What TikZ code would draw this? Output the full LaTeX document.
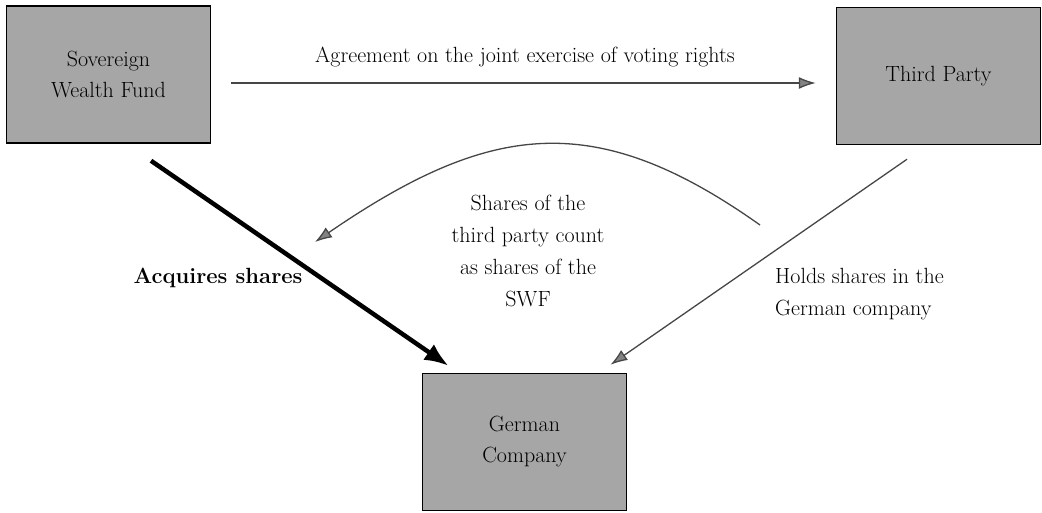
\documentclass[tikz,border=0pt]{standalone}
\usepackage{tikz}
\usetikzlibrary{arrows.meta, positioning, calc}
\definecolor{boxgray}{RGB}{166, 166, 166}
\definecolor{linkgray}{RGB}{70, 70, 70}
\definecolor{tipgray}{RGB}{130, 130, 130}

\tikzset{
    party/.style={draw=black, line width=1.5pt, fill=boxgray, minimum width=204pt, minimum height=137pt,
        inner sep=0pt, align=center, font=\fontsize{22}{31}\selectfont},
    caption/.style={font=\fontsize{22}{32}\selectfont, align=center, inner sep=0pt},
    thinlink/.style={draw=linkgray, line width=1.3pt, -{Latex[length=17pt, width=12pt, fill=tipgray]}},
    heavylink/.style={draw=black, line width=4.5pt, -{Latex[length=24pt, width=19pt]}}
}

\begin{document}
\begin{tikzpicture}[x=1pt, y=1pt]
\useasboundingbox (0,0) rectangle (1042,512);

% Parties
\node[party] (swf) at (108.5,437.5) {Sovereign\\Wealth Fund};
\node[party] (third) at (938.5,436) {Third Party};
\node[party] (company) at (524.5,70) {German\\Company};

% Agreement between SWF and third party
\draw[thinlink] ([shift={(20,-8.5)}]swf.east) -- ([shift={(-20,-7)}]third.west);
\node[caption] (agree) at (525,455) {Agreement on the joint exercise of voting rights};

% Shares held in the German company
\draw[heavylink] ([shift={(42.5,-17)}]swf.south) -- ([shift={(-76,7)}]company.north);
\draw[thinlink] ([shift={(-31.5,-14)}]third.south) -- ([shift={(86,8)}]company.north);
\node[caption, font=\fontsize{22}{32}\selectfont\bfseries] (acquires) at (218,234) {Acquires shares};
\node[caption, align=left, anchor=west] (holds) at (775,218) {Holds shares in the\\German company};

% Attribution of shares
\coordinate (countfrom) at (760,287);
\coordinate (countto) at (315,270);
\draw[thinlink] (countfrom) .. controls (595,404) and (490,390) .. (countto);
\node[caption] (count) at (528,261.5) {Shares of the\\third party count\\as shares of the\\SWF};
\end{tikzpicture}
\end{document}
